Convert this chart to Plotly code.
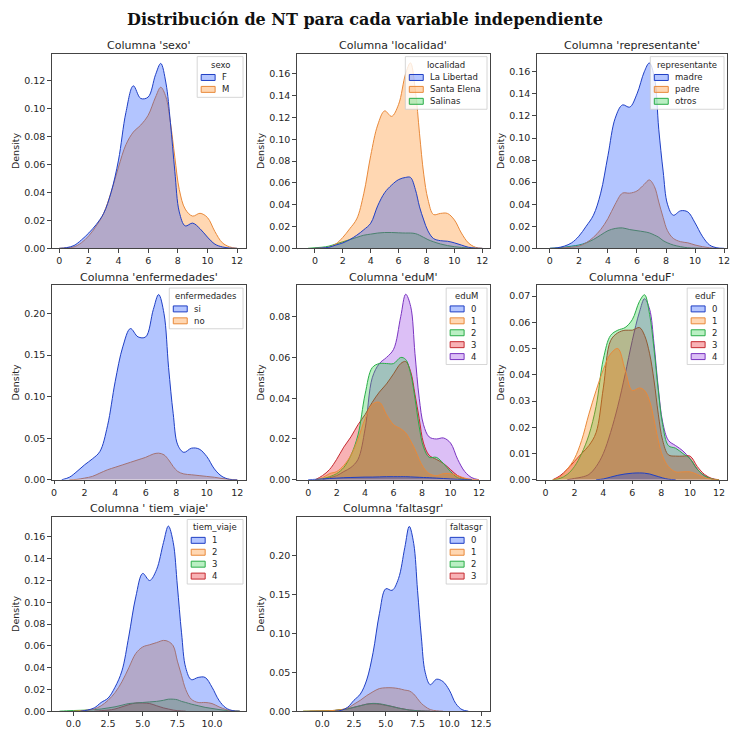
import plotly.graph_objects as go

W, H = 732, 743
N = None

# ---------------- data ----------------
nt_grid = [-1.5, -1, -0.5, 0, 0.5, 1, 1.5, 2, 2.5, 3, 3.5, 4, 4.5, 5, 5.5, 6,
           6.5, 6.85, 7.2, 7.5, 7.8, 8.1, 8.5, 9, 9.5, 10, 10.5, 11, 11.5, 12, 12.5]

sexo_levels = ["F", "M"]
sexo_F = [N,N,N,0, 0.0005,0.002,0.006,0.011, 0.017,0.025,0.04,0.063, 0.097,0.116,0.107,0.108, 0.124,0.132,0.118,0.09, 0.055,0.026,0.016,0.018, 0.014,0.008,0.003,0.001, 0.0002,0,N]
sexo_M = [N,N,N,0, 0.0003,0.001,0.004,0.009, 0.016,0.025,0.04,0.058, 0.074,0.083,0.088,0.095, 0.108,0.115,0.108,0.09, 0.065,0.042,0.028,0.023, 0.025,0.022,0.012,0.004, 0.001,0,N]

localidad_levels = ["La Libertad", "Santa Elena", "Salinas"]
loc_libertad = [N,N,N,0, 0.0003,0.001,0.003,0.005, 0.008,0.012,0.017,0.023, 0.039,0.051,0.058,0.063, 0.065,0.065,0.054,0.038, 0.026,0.016,0.009,0.007, 0.0065,0.005,0.003,0.001, 0.0002,0,N]
loc_santa_elena = [N,N,N,0, 0.0003,0.001,0.004,0.01, 0.018,0.027,0.05,0.085, 0.113,0.126,0.121,0.132, 0.16,0.17,0.145,0.105, 0.068,0.045,0.031,0.032, 0.032,0.026,0.014,0.005, 0.001,0,N]
loc_salinas = [N,N,0,0.0005, 0.001,0.002,0.004,0.006, 0.008,0.01,0.012,0.013, 0.014,0.0145,0.0145,0.0142, 0.014,0.014,0.0135,0.012, 0.01,0.008,0.006,0.004, 0.0025,0.0015,0.0008,0.0003, 0,N,N]

representante_levels = ["madre", "padre", "otros"]
rep_madre = [N,N,N,0, 0.0005,0.002,0.005,0.011, 0.02,0.03,0.05,0.084, 0.118,0.13,0.128,0.14, 0.16,0.168,0.155,0.108, 0.07,0.04,0.03,0.034, 0.033,0.023,0.011,0.003, 0.0005,0,N]
rep_padre = [N,N,N,N, 0,0.0005,0.001,0.002, 0.005,0.01,0.017,0.027, 0.04,0.05,0.05,0.052, 0.058,0.062,0.056,0.042, 0.028,0.016,0.009,0.006, 0.005,0.003,0.0015,0.0005, 0,N,N]
rep_otros = [N,N,N,0, 0.0003,0.001,0.002,0.003, 0.005,0.008,0.012,0.016, 0.018,0.0185,0.017,0.016, 0.015,0.014,0.012,0.01, 0.007,0.005,0.003,0.0015, 0.0005,0.0002,0,N, N,N,N]

enfermedades_levels = ["si", "no"]
enf_si = [N,N,N,N, 0,0.003,0.01,0.018, 0.025,0.034,0.065,0.118, 0.16,0.182,0.172,0.172, 0.205,0.223,0.2,0.135, 0.08,0.042,0.033,0.038, 0.037,0.028,0.013,0.004, 0.0005,0,N]
enf_no = [N,N,N,N, N,0,0.0005,0.002, 0.004,0.008,0.012,0.015, 0.018,0.021,0.024,0.027, 0.031,0.032,0.03,0.024, 0.016,0.01,0.007,0.006, 0.005,0.004,0.003,0.0015, 0.0005,0,N]

eduM_levels = ["0", "1", "2", "3", "4"]
eduM_0 = [N,N,N,0, 0.0002,0.0004,0.0006,0.0008, 0.001,0.0011,0.0012,0.0013, 0.0013,0.0014,0.0015,0.0015, 0.0015,0.0015,0.0014,0.0013, 0.0012,0.0011,0.001,0.0008, 0.0006,0.0004,0.0002,0.0001, 0,N,N]
eduM_1 = [N,N,N,N, 0,0.001,0.003,0.004, 0.007,0.012,0.02,0.03, 0.037,0.038,0.032,0.027, 0.025,0.023,0.019,0.015, 0.01,0.006,0.003,0.002, 0.003,0.003,0.002,0.0008, 0.0002,0,N]
eduM_2 = [N,N,N,N, 0,0.0005,0.0015,0.003, 0.006,0.012,0.022,0.042, 0.055,0.057,0.057,0.057, 0.06,0.059,0.052,0.04, 0.026,0.016,0.011,0.011, 0.008,0.004,0.001,0.0002, 0,N,N]
eduM_3 = [N,N,N,N, 0,0.002,0.005,0.01, 0.016,0.021,0.027,0.032, 0.038,0.043,0.047,0.052, 0.057,0.058,0.053,0.042, 0.03,0.018,0.012,0.01, 0.008,0.005,0.002,0.0005, 0,N,N]
eduM_4 = [N,N,N,N, N,0,0.001,0.002, 0.004,0.006,0.01,0.025, 0.05,0.057,0.06,0.064, 0.08,0.091,0.085,0.062, 0.04,0.027,0.021,0.02, 0.0205,0.018,0.01,0.004, 0.001,0,N]

eduF_levels = ["0", "1", "2", "3", "4"]
eduF_0 = [N,N,N,N, N,N,N,N, N,N,0,0.0003, 0.001,0.0017,0.0022,0.0025, 0.0026,0.0025,0.0022,0.0017, 0.0012,0.0007,0.0002,0, N,N,N,N, N,N,N]
eduF_1 = [N,N,N,N, 0,0.001,0.004,0.008, 0.015,0.025,0.034,0.042, 0.048,0.05,0.042,0.034, 0.035,0.034,0.03,0.023, 0.015,0.009,0.005,0.003, 0.003,0.003,0.002,0.0008, 0.0002,0,N]
eduF_2 = [N,N,N,N, 0,0.0005,0.002,0.005, 0.01,0.017,0.028,0.046, 0.055,0.057,0.058,0.061, 0.068,0.0705,0.063,0.05, 0.034,0.021,0.013,0.012, 0.01,0.008,0.004,0.0015, 0.0003,0,N]
eduF_3 = [N,N,N,N, 0,0.0015,0.004,0.007, 0.01,0.013,0.018,0.035, 0.053,0.056,0.057,0.057, 0.058,0.055,0.048,0.038, 0.025,0.015,0.0095,0.009, 0.009,0.009,0.005,0.002, 0.0005,0,N]
eduF_4 = [N,N,N,N, N,N,0,0.0005, 0.001,0.002,0.005,0.01, 0.018,0.028,0.04,0.053, 0.064,0.069,0.065,0.052, 0.035,0.022,0.015,0.013, 0.011,0.008,0.004,0.0015, 0.0003,0,N]

tiem_levels = ["1", "2", "3", "4"]
tiem_1 = [N,N,N,N, 0,0.001,0.003,0.008, 0.012,0.022,0.037,0.069, 0.105,0.1265,0.12,0.13, 0.155,0.17,0.155,0.115, 0.072,0.04,0.029,0.031, 0.031,0.022,0.01,0.003, 0.0005,0,N]
tiem_2 = [N,N,N,0, 0.0003,0.001,0.002,0.005, 0.01,0.017,0.027,0.04, 0.053,0.059,0.061,0.063, 0.065,0.064,0.06,0.046, 0.033,0.02,0.011,0.008, 0.008,0.007,0.004,0.0015, 0.0003,0,N]
tiem_3 = [N,0,0.0003,0.0006, 0.0008,0.001,0.0015,0.002, 0.003,0.004,0.0055,0.007, 0.0075,0.008,0.0085,0.009, 0.01,0.011,0.011,0.0105, 0.009,0.008,0.0065,0.005, 0.0035,0.0025,0.0015,0.0007, 0.0002,0,N]
tiem_4 = [N,N,N,N, N,N,0,0.0005, 0.001,0.002,0.004,0.006, 0.0075,0.0075,0.007,0.005, 0.003,0.002,0.001,0.0005, 0.0002,0,N,N, N,N,N,N, N,N,N]

faltas_levels = ["0", "1", "2", "3"]
faltas_0 = [N,N,N,N, N,0,0.001,0.005, 0.014,0.022,0.04,0.075, 0.125,0.157,0.155,0.17, 0.21,0.237,0.215,0.155, 0.095,0.05,0.034,0.041, 0.038,0.027,0.01,0.002, 0,N,N]
faltas_1 = [0,0.0001,0.0002,0.0003, 0.0006,0.001,0.002,0.004, 0.009,0.014,0.02,0.025, 0.029,0.03,0.03,0.029, 0.027,0.026,0.022,0.016, 0.01,0.006,0.002,0.0005, 0,N,N,N, N,N,N]
faltas_2 = [0,0.0001,0.0002,0.0003, 0.0006,0.001,0.002,0.003, 0.005,0.007,0.009,0.01, 0.0095,0.008,0.006,0.004, 0.0025,0.0015,0.001,0.0006, 0.0003,0.0001,0,N, N,N,N,N, N,N,N]
faltas_3 = [N,0,0.0002,0.0003, 0.0006,0.001,0.002,0.003, 0.005,0.007,0.009,0.0095, 0.009,0.0075,0.006,0.004, 0.0025,0.0015,0.001,0.0006, 0.0003,0.0001,0,N, N,N,N,N, N,N,N]

# ---------------- styling ----------------
PALETTE = ["#023EFF", "#FF7C00", "#1AC938", "#E8000B", "#8B2BE2"]
EDGE = ["#1f3fc4", "#e8893a", "#2aad48", "#c42a30", "#7a34c0"]
ALPHA = 0.3
FONT = "DejaVu Sans"
TXT = "#262626"
AXC = "#444444"


def rgba(hexc, a):
    h = hexc.lstrip("#")
    return "rgba(%d,%d,%d,%.3f)" % (int(h[0:2], 16), int(h[2:4], 16), int(h[4:6], 16), a)


def px(x):
    return x / W


def py(y):
    return 1 - y / H


# panel boxes in pixels: (left, right, top, bottom)
cols = [(51, 246), (297, 491), (538, 729)]
rows = [(54, 250), (287, 483), (520, 716)]

panels = [
    dict(col="sexo", levels=sexo_levels, series=[sexo_F, sexo_M],
         xr=[-0.5, 12.6], yr=[0, 0.139], ydt=0.02, yfmt=".2f", xdt=2, xfmt="d",
         legw=46, pos=(0, 0)),
    dict(col="localidad", levels=localidad_levels, series=[loc_libertad, loc_santa_elena, loc_salinas],
         xr=[-1.3, 12.55], yr=[0, 0.1785], ydt=0.02, yfmt=".2f", xdt=2, xfmt="d",
         legw=82, pos=(0, 1)),
    dict(col="representante", levels=representante_levels, series=[rep_madre, rep_padre, rep_otros],
         xr=[-0.9, 12.2], yr=[0, 0.1765], ydt=0.02, yfmt=".2f", xdt=2, xfmt="d",
         legw=74, pos=(0, 2)),
    dict(col="enfermedades", levels=enfermedades_levels, series=[enf_si, enf_no],
         xr=[-0.15, 12.57], yr=[0, 0.2344], ydt=0.05, yfmt=".2f", xdt=2, xfmt="d",
         legw=74, pos=(1, 0)),
    dict(col="eduM", levels=eduM_levels, series=[eduM_0, eduM_1, eduM_2, eduM_3, eduM_4],
         xr=[-0.8, 12.77], yr=[0, 0.0955], ydt=0.02, yfmt=".2f", xdt=2, xfmt="d",
         legw=41, pos=(1, 1)),
    dict(col="eduF", levels=eduF_levels, series=[eduF_0, eduF_1, eduF_2, eduF_3, eduF_4],
         xr=[-0.6, 12.55], yr=[0, 0.0742], ydt=0.01, yfmt=".2f", xdt=2, xfmt="d",
         legw=37, pos=(1, 2)),
    dict(col=" tiem_viaje", levels=tiem_levels, series=[tiem_1, tiem_2, tiem_3, tiem_4],
         xr=[-1.56, 12.45], yr=[0, 0.1788], ydt=0.02, yfmt=".2f", xdt=2.5, xfmt=".1f",
         legw=56, pos=(2, 0)),
    dict(col="faltasgr", levels=faltas_levels, series=[faltas_0, faltas_1, faltas_2, faltas_3],
         xr=[-2.0, 13.2], yr=[0, 0.2497], ydt=0.05, yfmt=".2f", xdt=2.5, xfmt=".1f",
         legw=41, pos=(2, 1)),
]

fig = go.Figure()
shapes = []
annotations = []

for i, p in enumerate(panels):
    k = i + 1
    xa = "x" if k == 1 else "x%d" % k
    ya = "y" if k == 1 else "y%d" % k
    r, c = p["pos"]
    L, R = cols[c]
    T, B = rows[r]
    # draw in reverse order (first hue level on top)
    for j in reversed(range(len(p["levels"]))):
        fig.add_trace(go.Scatter(
            x=nt_grid, y=p["series"][j], xaxis=xa, yaxis=ya,
            mode="lines", line=dict(color=EDGE[j], width=1.0, shape="spline", smoothing=1.0),
            fill="tozeroy", fillcolor=rgba(PALETTE[j], ALPHA), showlegend=False,
            hoverinfo="skip"))
    axkey_x = "xaxis" if k == 1 else "xaxis%d" % k
    axkey_y = "yaxis" if k == 1 else "yaxis%d" % k
    fig.layout[axkey_x] = dict(
        domain=[px(L), px(R)], anchor=ya, range=p["xr"], dtick=p["xdt"], tick0=0,
        tickformat=p["xfmt"], showline=True, mirror=True, linecolor=AXC, linewidth=1,
        ticks="outside", ticklen=3.5, tickwidth=0.8, tickcolor=AXC,
        showgrid=False, zeroline=False, tickfont=dict(family=FONT, size=9.5, color=TXT))
    fig.layout[axkey_y] = dict(
        domain=[py(B), py(T)], anchor=xa, range=p["yr"], dtick=p["ydt"], tick0=0,
        tickformat=p["yfmt"], showline=True, mirror=True, linecolor=AXC, linewidth=1,
        ticks="outside", ticklen=3.5, tickwidth=0.8, tickcolor=AXC,
        showgrid=False, zeroline=False, tickfont=dict(family=FONT, size=9.5, color=TXT),
        title=dict(text="Density", font=dict(family=FONT, size=9.5, color=TXT), standoff=2))
    # subplot title
    annotations.append(dict(
        text="Columna '%s'" % p["col"], x=px((L + R) / 2), y=py(T - 8),
        xref="paper", yref="paper", showarrow=False, xanchor="center", yanchor="middle",
        font=dict(family=FONT, size=11, color=TXT)))
    # legend box
    n = len(p["levels"])
    lr = R - 3
    ll = lr - p["legw"]
    lt = T + 3
    lb = lt + 21 + (n - 1) * 12 + 8
    shapes.append(dict(type="rect", xref="paper", yref="paper",
                       x0=px(ll), x1=px(lr), y0=py(lb), y1=py(lt),
                       fillcolor="rgba(255,255,255,0.8)", line=dict(color="#cccccc", width=0.8)))
    annotations.append(dict(
        text=p["col"].strip(), x=px((ll + lr) / 2), y=py(lt + 8), xref="paper", yref="paper",
        showarrow=False, xanchor="center", yanchor="middle",
        font=dict(family=FONT, size=8.5, color=TXT)))
    for j, lev in enumerate(p["levels"]):
        yc = lt + 21 + j * 12
        shapes.append(dict(type="rect", xref="paper", yref="paper",
                           x0=px(ll + 4), x1=px(ll + 18), y0=py(yc + 3), y1=py(yc - 3),
                           fillcolor=rgba(PALETTE[j], ALPHA), line=dict(color=EDGE[j], width=1)))
        annotations.append(dict(
            text=lev, x=px(ll + 23), y=py(yc), xref="paper", yref="paper",
            showarrow=False, xanchor="left", yanchor="middle",
            font=dict(family=FONT, size=8.5, color=TXT)))

annotations.append(dict(
    text="<b>Distribución de NT para cada variable independiente</b>",
    x=px(365), y=py(20), xref="paper", yref="paper", showarrow=False,
    xanchor="center", yanchor="middle",
    font=dict(family="DejaVu Serif", size=16, color="#111111")))

fig.update_layout(
    width=W, height=H, margin=dict(l=0, r=0, t=0, b=0),
    paper_bgcolor="white", plot_bgcolor="white",
    shapes=shapes, annotations=annotations, showlegend=False,
    font=dict(family=FONT, color=TXT),
)

fig.write_html("out.html")
